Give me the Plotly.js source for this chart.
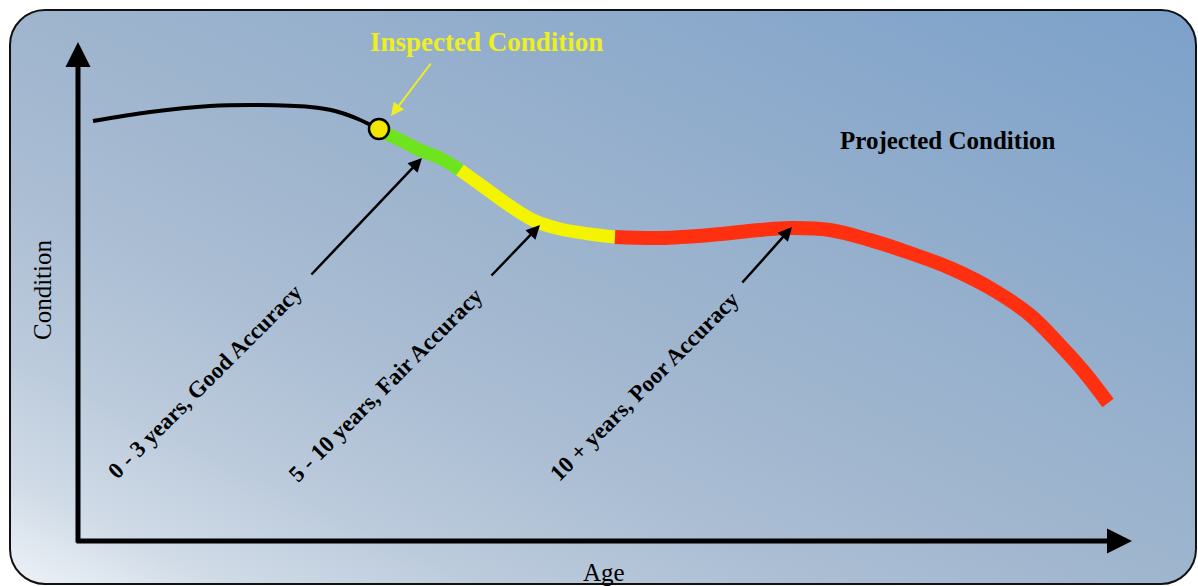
<!DOCTYPE html>
<html><head><meta charset="utf-8">
<script src="https://cdn.plot.ly/plotly-3.0.1.min.js"></script>
<style>
html,body{margin:0;padding:0;background:#fff;}
#wrap{position:relative;width:1198px;height:586px;overflow:hidden;}
#bg{position:absolute;left:9px;top:9px;width:1184px;height:572px;border:2.5px solid #111;border-radius:36px;
background:linear-gradient(to top right,#eef2f7 0%,#d0dbe7 9%,#bccbdc 20%,#aabdd3 35%,#9fb5ce 50%,#91adcc 70%,#7ca1ca 100%);}
#chart{position:absolute;left:0;top:0;width:1198px;height:586px;}
</style></head>
<body><div id="wrap"><div id="bg"></div><div id="chart"></div></div>
<script>
// Curve segments (age, condition)
const blackAge  = [15,72,132,182,232,257,280,302];
const blackCond = [420,429,435,436,434,430,422,411];
const greenAge  = [302,322,342,362,382];
const greenCond = [410,401,391,383,371];
const yellowAge = [382,407,432,457,482,512,537];
const yellowCond= [371,353,335,320,312,307,304];
const redAge    = [537,582,632,682,712,752,792,832,872,912,952,982,1007,1030];
const redCond   = [304,303,306,311,313,311,301,288,273,253,226,196,168,138];
const inspectedAge = [301];
const inspectedCond = [412];

const labels = ["0 - 3 years, Good Accuracy","5 - 10 years, Fair Accuracy","10 + years, Poor Accuracy"];
const labelAge  = [127,307,566];
const labelCond = [160,156,155];
const arrowHeadAge  = [344,462,714];
const arrowHeadCond = [383,316,314];
const arrowTailAge  = [232,412,663];
const arrowTailCond = [265,264,257];

const serif = "Liberation Serif, Times New Roman, serif";

const traces = [
 {x:blackAge,y:blackCond,mode:'lines',line:{color:'#000',width:4,shape:'spline'},hoverinfo:'skip'},
 {x:greenAge,y:greenCond,mode:'lines',line:{color:'#6ee41e',width:13,shape:'spline'},hoverinfo:'skip'},
 {x:yellowAge,y:yellowCond,mode:'lines',line:{color:'#f4f400',width:13,shape:'spline'},hoverinfo:'skip'},
 {x:redAge,y:redCond,mode:'lines',line:{color:'#ff3010',width:14,shape:'spline'},hoverinfo:'skip'},
 {x:inspectedAge,y:inspectedCond,mode:'markers',marker:{size:20,color:'#f2e600',line:{color:'#000',width:2.5}},hoverinfo:'skip'}
];

const ann = [];
labels.forEach((t,i)=>{
  ann.push({x:labelAge[i],y:labelCond[i],xref:'x',yref:'y',text:'<b>'+t+'</b>',showarrow:false,textangle:-45,
    font:{family:serif,size:23,color:'#000'}});
  ann.push({x:arrowHeadAge[i],y:arrowHeadCond[i],ax:arrowTailAge[i],ay:arrowTailCond[i],axref:'x',ayref:'y',
    xref:'x',yref:'y',text:'',showarrow:true,arrowhead:2,arrowsize:1.1,arrowwidth:2.5,arrowcolor:'#000'});
});
// Inspected condition
ann.push({x:408,y:499,xref:'x',yref:'y',text:'<b>Inspected Condition</b>',showarrow:false,font:{family:serif,size:27,color:'#eeee22'}});
ann.push({x:313,y:425,ax:354,ay:479,axref:'x',ayref:'y',xref:'x',yref:'y',text:'',showarrow:true,arrowhead:2,arrowsize:1.3,arrowwidth:2,arrowcolor:'#eeee22'});
// Projected
ann.push({x:870,y:401,xref:'x',yref:'y',text:'<b>Projected Condition</b>',showarrow:false,font:{family:serif,size:25,color:'#000'}});
// Axis titles
ann.push({x:-36,y:251,xref:'x',yref:'y',text:'Condition',textangle:-90,showarrow:false,font:{family:serif,size:25,color:'#000'}});
ann.push({x:526,y:-31,xref:'x',yref:'y',text:'Age',showarrow:false,font:{family:serif,size:25,color:'#000'}});
// Axes arrows
ann.push({x:1054,y:0,ax:-3,ay:0,axref:'x',ayref:'y',xref:'x',yref:'y',text:'',showarrow:true,arrowhead:2,arrowsize:1,arrowwidth:5,arrowcolor:'#000'});
ann.push({x:0,y:499,ax:0,ay:-3,axref:'x',ayref:'y',xref:'x',yref:'y',text:'',showarrow:true,arrowhead:2,arrowsize:1,arrowwidth:5,arrowcolor:'#000'});

const layout = {
  width:1198,height:586,margin:{l:0,r:0,t:0,b:0},
  paper_bgcolor:'rgba(0,0,0,0)',plot_bgcolor:'rgba(0,0,0,0)',
  showlegend:false,
  xaxis:{range:[-78,1120],visible:false,fixedrange:true},
  yaxis:{range:[-45,541],visible:false,fixedrange:true},
  annotations:ann
};
Plotly.newPlot('chart',traces,layout,{displayModeBar:false,staticPlot:true});
</script></body></html>
